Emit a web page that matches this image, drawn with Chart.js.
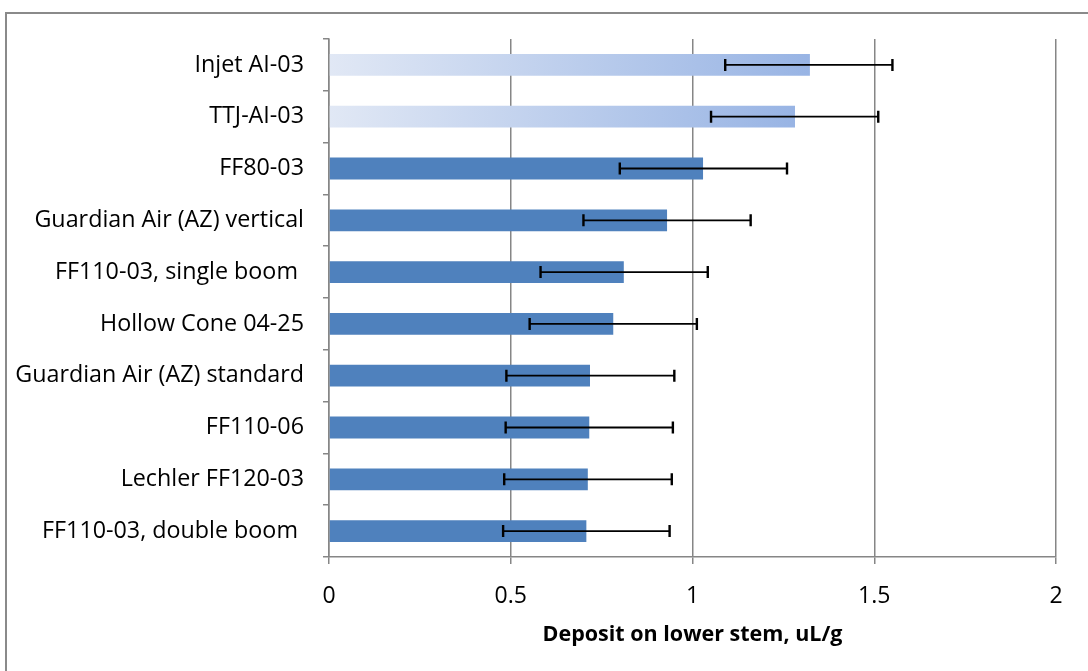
<!DOCTYPE html>
<html>
<head>
<meta charset="utf-8">
<script src="https://cdn.jsdelivr.net/npm/chart.js@4/dist/chart.umd.min.js"></script>
<style>
  html, body { margin: 0; padding: 0; background: #ffffff; overflow: hidden; }
  #frame { position: absolute; left: 5px; top: 12px; width: 1100px; height: 700px; border: 2px solid #8a8a8a; box-sizing: border-box; }
  #wrap { position: absolute; left: 0; top: 0; width: 1088px; height: 671px; }
</style>
</head>
<body>
<div id="frame"></div>
<div id="wrap"><canvas id="c" width="1088" height="671"></canvas></div>
<script>
const categories = [
  "Injet AI-03",
  "TTJ-AI-03",
  "FF80-03",
  "Guardian Air (AZ) vertical",
  "FF110-03, single boom ",
  "Hollow Cone 04-25",
  "Guardian Air (AZ) standard",
  "FF110-06",
  "Lechler FF120-03",
  "FF110-03, double boom "
];
const deposit = [1.323, 1.282, 1.029, 0.930, 0.811, 0.782, 0.718, 0.716, 0.712, 0.708];
const errorLow  = [1.090, 1.051, 0.800, 0.700, 0.582, 0.552, 0.488, 0.486, 0.482, 0.479];
const errorHigh = [1.550, 1.511, 1.260, 1.160, 1.042, 1.012, 0.950, 0.946, 0.943, 0.937];
const gradientBars = [true, true, false, false, false, false, false, false, false, false];
const xTicks = [0, 0.5, 1, 1.5, 2];
const xTitle = "Deposit on lower stem, uL/g";

const FONT = "'Open Sans', Lato, 'DejaVu Sans', sans-serif";

function barColor(ctx) {
  const i = ctx.dataIndex;
  if (!gradientBars[i]) return "#4f81bd";
  const chart = ctx.chart;
  const area = chart.chartArea;
  if (!area || !chart.scales.x) return "#b8cbee";
  const x0 = chart.scales.x.getPixelForValue(0);
  const x1 = chart.scales.x.getPixelForValue(deposit[i]);
  const g = chart.ctx.createLinearGradient(x0, 0, x1, 0);
  g.addColorStop(0, "#e1e8f5");
  g.addColorStop(1, "#98b4e4");
  return g;
}

const errorBarPlugin = {
  id: "errorBars",
  afterDatasetsDraw(chart) {
    const meta = chart.getDatasetMeta(0);
    const xs = chart.scales.x;
    const c = chart.ctx;
    c.save();
    c.strokeStyle = "#000000";
    meta.data.forEach((bar, i) => {
      const y = bar.y;
      const xl = xs.getPixelForValue(errorLow[i]);
      const xh = xs.getPixelForValue(errorHigh[i]);
      c.lineWidth = 1.8;
      c.beginPath();
      c.moveTo(xl, y);
      c.lineTo(xh, y);
      c.stroke();
      c.lineWidth = 2.4;
      c.beginPath();
      c.moveTo(xl, y - 6);
      c.lineTo(xl, y + 6);
      c.moveTo(xh, y - 6);
      c.lineTo(xh, y + 6);
      c.stroke();
    });
    c.restore();
  }
};

new Chart(document.getElementById("c"), {
  type: "bar",
  data: {
    labels: categories,
    datasets: [{
      data: deposit,
      backgroundColor: barColor,
      borderWidth: 0,
      categoryPercentage: 1.0,
      barPercentage: 0.42
    }]
  },
  options: {
    indexAxis: "y",
    responsive: false,
    animation: false,
    devicePixelRatio: 1,
    layout: { padding: { left: 0, right: 32, top: 39, bottom: 0 } },
    plugins: { legend: { display: false }, tooltip: { enabled: false } },
    scales: {
      x: {
        min: 0, max: 2,
        afterBuildTicks(scale) { scale.ticks = xTicks.map(v => ({ value: v })); },
        afterFit(scale) { scale.height = 114; },
        ticks: {
          color: "#000000",
          font: { family: FONT, size: 23 },
          padding: 19,
          maxRotation: 0,
          callback: v => String(v)
        },
        grid: { color: "#868686", lineWidth: 1.5, tickLength: 7 },
        border: { color: "#868686", width: 1.5 },
        title: {
          display: true,
          text: xTitle,
          color: "#000000",
          font: { family: FONT, size: 21.5, weight: "bold" },
          padding: { top: 23, bottom: 23 }
        }
      },
      y: {
        afterFit(scale) { scale.width = 329; },
        ticks: {
          color: "#000000",
          font: { family: FONT, size: 23.3 },
          padding: 19
        },
        grid: { offset: true, drawOnChartArea: false, color: "#868686", lineWidth: 1.5, tickLength: 6 },
        border: { color: "#868686", width: 1.5 }
      }
    }
  },
  plugins: [errorBarPlugin]
});
</script>
</body>
</html>
